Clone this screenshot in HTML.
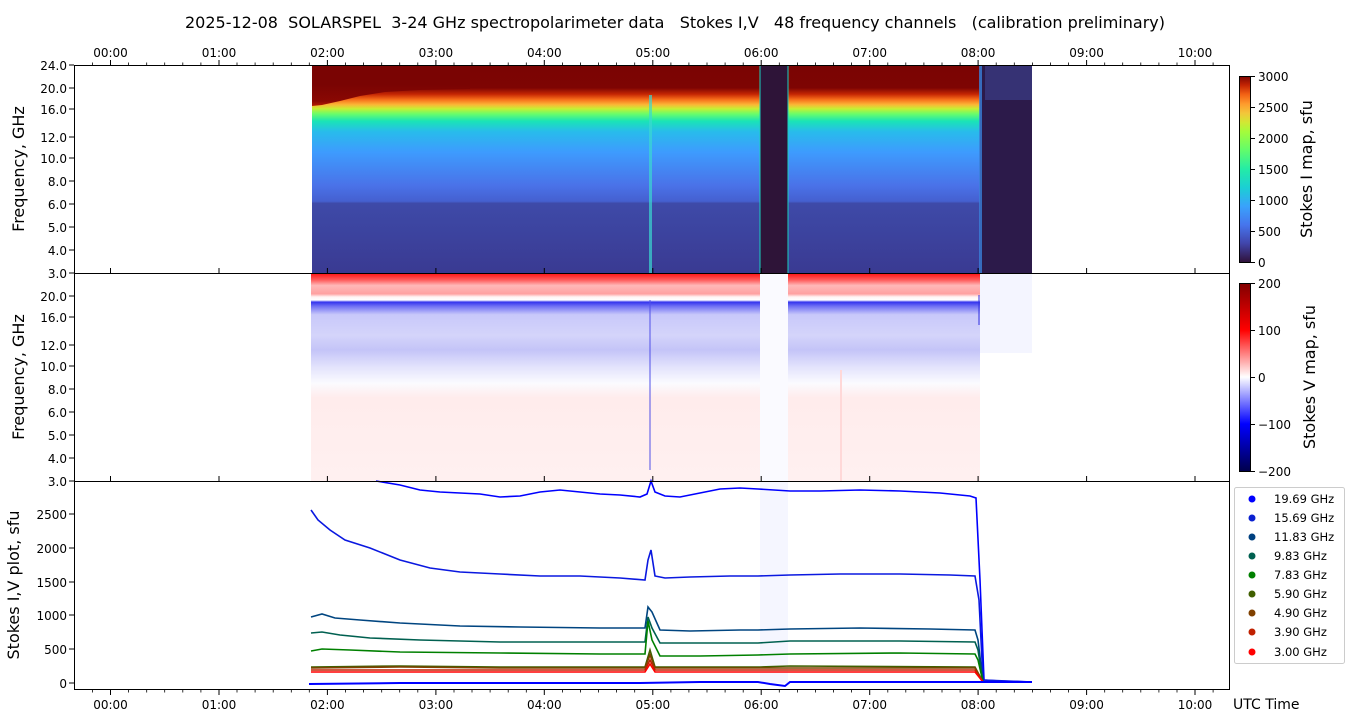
<!DOCTYPE html>
<html><head><meta charset="utf-8"><style>
body{margin:0;background:#fff;}
svg{display:block;font-family:"DejaVu Sans","Liberation Sans",sans-serif;}
</style></head><body>
<svg width="1350" height="725" viewBox="0 0 1350 725" xmlns="http://www.w3.org/2000/svg">
<defs>
<linearGradient id="gI" x1="0" y1="65" x2="0" y2="273" gradientUnits="userSpaceOnUse">
<stop offset="0" stop-color="#7a0403"/><stop offset="0.11" stop-color="#7e0503"/>
<stop offset="0.14" stop-color="#c42503"/><stop offset="0.165" stop-color="#f66b19"/>
<stop offset="0.19" stop-color="#fcb536"/><stop offset="0.21" stop-color="#c7ef34"/>
<stop offset="0.235" stop-color="#6afd6a"/><stop offset="0.27" stop-color="#1ae4b6"/>
<stop offset="0.32" stop-color="#28bceb"/><stop offset="0.42" stop-color="#3e9bfe"/>
<stop offset="0.58" stop-color="#4a72e8"/><stop offset="0.655" stop-color="#4560d0"/>
<stop offset="0.665" stop-color="#3e4aa8"/><stop offset="1" stop-color="#3a3a92"/>
</linearGradient>
<linearGradient id="gV" x1="0" y1="273" x2="0" y2="481" gradientUnits="userSpaceOnUse">
<stop offset="0" stop-color="#ff1010"/><stop offset="0.035" stop-color="#ff6060"/>
<stop offset="0.06" stop-color="#ffb8b8"/><stop offset="0.1" stop-color="#ffa0a0"/>
<stop offset="0.115" stop-color="#fff4f4"/><stop offset="0.13" stop-color="#ffffff"/>
<stop offset="0.14" stop-color="#3535ee"/><stop offset="0.16" stop-color="#7070f4"/>
<stop offset="0.2" stop-color="#c8c8fa"/><stop offset="0.3" stop-color="#d4d4fa"/>
<stop offset="0.37" stop-color="#c4c4f8"/><stop offset="0.45" stop-color="#e2e2fc"/>
<stop offset="0.53" stop-color="#fbfbff"/><stop offset="0.6" stop-color="#ffecec"/>
<stop offset="1" stop-color="#fff0f0"/>
</linearGradient>
<linearGradient id="gR" x1="0" y1="85" x2="0" y2="112" gradientUnits="userSpaceOnUse">
<stop offset="0" stop-color="#7a0403"/><stop offset="0.6" stop-color="#8a0803"/>
<stop offset="0.85" stop-color="#c42503"/><stop offset="1" stop-color="#f66b19"/>
</linearGradient>
<linearGradient id="cbI" x1="0" y1="262" x2="0" y2="76" gradientUnits="userSpaceOnUse">
<stop offset="0" stop-color="#30123b"/><stop offset="0.1" stop-color="#4145ab"/>
<stop offset="0.2" stop-color="#4675ed"/><stop offset="0.3" stop-color="#39a2fc"/>
<stop offset="0.4" stop-color="#1bcfd4"/><stop offset="0.5" stop-color="#24eca6"/>
<stop offset="0.6" stop-color="#61fc6c"/><stop offset="0.7" stop-color="#a4fc3b"/>
<stop offset="0.75" stop-color="#d1e834"/><stop offset="0.8" stop-color="#f3c63a"/>
<stop offset="0.85" stop-color="#fe9b2d"/><stop offset="0.9" stop-color="#f36315"/>
<stop offset="0.95" stop-color="#c42503"/><stop offset="1" stop-color="#7a0403"/>
</linearGradient>
<linearGradient id="cbV" x1="0" y1="471" x2="0" y2="283" gradientUnits="userSpaceOnUse">
<stop offset="0" stop-color="#00004c"/><stop offset="0.25" stop-color="#0000ff"/>
<stop offset="0.5" stop-color="#ffffff"/><stop offset="0.75" stop-color="#ff0000"/>
<stop offset="1" stop-color="#800000"/>
</linearGradient>
</defs>

<text x="675" y="28" font-size="16" text-anchor="middle" fill="#000" style="white-space:pre" xml:space="preserve">2025-12-08  SOLARSPEL  3-24 GHz spectropolarimeter data   Stokes I,V   48 frequency channels   (calibration preliminary)</text>

<!-- TOP PANEL -->
<rect x="312" y="65" width="448" height="208" fill="url(#gI)"/>
<rect x="788" y="65" width="192" height="208" fill="url(#gI)"/>
<path d="M312,65 L312,106 L322,105 L340,101 L360,96 L385,92 L420,90 L470,89 L470,65 Z" fill="url(#gR)"/>
<rect x="649" y="95" width="3" height="178" fill="#3ad8d0" opacity="0.7"/>
<rect x="760" y="65" width="28" height="208" fill="#2e1438"/>
<rect x="759" y="65" width="2" height="208" fill="#1ad0c0" opacity="0.5"/>
<rect x="787" y="65" width="2" height="208" fill="#1ad0c0" opacity="0.5"/>
<rect x="980" y="65" width="52" height="208" fill="#2c1a4a"/>
<rect x="985" y="65" width="47" height="35" fill="#363274"/>
<rect x="979" y="65" width="3" height="208" fill="#3a80d8" opacity="0.8"/>

<!-- MIDDLE PANEL -->
<rect x="311" y="273" width="449" height="208" fill="url(#gV)"/>
<rect x="788" y="273" width="192" height="208" fill="url(#gV)"/>
<rect x="760" y="273" width="28" height="208" fill="#fafaff"/>
<rect x="649" y="300" width="2" height="170" fill="#5050e8" opacity="0.5"/>
<rect x="978" y="295" width="3" height="30" fill="#3030e0" opacity="0.5"/>
<rect x="980" y="273" width="52" height="80" fill="#f4f5ff"/>
<rect x="840" y="370" width="2" height="111" fill="#ffd8d8"/>

<!-- BOTTOM PANEL -->
<rect x="760" y="481" width="28" height="202" fill="#eef0ff" opacity="0.6"/>
<g fill="none" stroke-width="1.6">
<polyline stroke="#0000ff" points="376,481 400,485 420,490 440,492 460,493 480,494 500,497 520,496 540,492 560,490 580,492 600,494 620,495 640,497 647,494 651,481 655,492 665,496 680,497 700,493 720,489 740,488 758,489 790,491 820,491 860,490 900,491 940,493 970,496 976,498 980,580 984,680 1000,681 1032,682"/>
<polyline stroke="#0a18e0" points="311,510 318,520 330,530 345,540 370,548 400,560 430,568 460,572 500,574 540,576 580,576 620,578 645,580 648,560 651,550 655,576 665,578 690,577 730,576 758,576 790,575 840,574 900,574 950,575 975,576 979,600 983,680 1032,682"/>
<polyline stroke="#004580" points="311,617 322,614 335,618 360,620 400,623 460,626 520,627 600,628 645,628 648,607 652,612 660,630 690,631 740,630 758,630 790,629 860,628 930,629 975,630 978,640 983,682"/>
<polyline stroke="#006050" points="311,633 322,632 340,635 370,638 420,640 500,642 600,642 645,642 648,617 652,628 660,643 700,643 758,643 790,641 900,641 975,642 978,650 983,682"/>
<polyline stroke="#008000" points="311,651 322,649 350,650 400,652 500,653 600,654 645,654 648,621 652,640 660,656 700,656 758,655 790,654 900,653 975,654 978,660 983,682"/>
<polyline stroke="#405f00" points="311,667 400,666 500,667 645,667 650,650 655,667 760,667 790,666 975,667 983,682"/>
<polyline stroke="#804000" points="311,668 400,667 500,668 645,668 650,655 655,668 760,668 790,668 975,668 983,682"/>
<polyline stroke="#c02000" points="311,670 400,670 500,670 645,670 650,660 655,670 760,670 790,670 975,670 983,682"/>
<polyline stroke="#ff0000" points="311,672 400,672 500,672 645,672 650,664 655,672 760,672 790,672 975,672 983,682"/>
<polyline stroke="#0000ff" stroke-width="2" points="309,684 400,683 500,683 640,683 700,682 758,682 770,684 785,686 790,682 900,682 1032,682"/>
</g>

<!-- AXES frames -->
<g fill="none" stroke="#000" stroke-width="1">
<rect x="74.5" y="65.5" width="1155" height="208"/>
<rect x="74.5" y="273.5" width="1155" height="208"/>
<rect x="74.5" y="481.5" width="1155" height="208"/>
<rect x="1239.5" y="76.5" width="11" height="186"/>
<rect x="1239.5" y="283.5" width="11" height="188"/>
</g>
<rect x="1240" y="77" width="10" height="185" fill="url(#cbI)"/>
<rect x="1240" y="284" width="10" height="187" fill="url(#cbV)"/>

<!-- time ticks -->
<g stroke="#000" stroke-width="1">
<path d="M110.5,65v-5M219,65v-5M327.4,65v-5M435.9,65v-5M544.3,65v-5M652.8,65v-5M761.2,65v-5M869.7,65v-5M978.1,65v-5M1086.6,65v-5M1195,65v-5"/>
<path d="M110.5,690v5M219,690v5M327.4,690v5M435.9,690v5M544.3,690v5M652.8,690v5M761.2,690v5M869.7,690v5M978.1,690v5M1086.6,690v5M1195,690v5"/>
<path d="M110.5,273v-5M219,273v-5M327.4,273v-5M435.9,273v-5M544.3,273v-5M652.8,273v-5M761.2,273v-5M869.7,273v-5M978.1,273v-5M1086.6,273v-5M1195,273v-5"/>
<path d="M110.5,481v-5M219,481v-5M327.4,481v-5M435.9,481v-5M544.3,481v-5M652.8,481v-5M761.2,481v-5M869.7,481v-5M978.1,481v-5M1086.6,481v-5M1195,481v-5"/>
</g>
<g stroke="#000" stroke-width="0.8" id="minor">
<path d="M92.4,65v-2.5M128.6,65v-2.5M146.7,65v-2.5M164.7,65v-2.5M182.8,65v-2.5M200.9,65v-2.5M237,65v-2.5M255.1,65v-2.5M273.2,65v-2.5M291.3,65v-2.5M309.3,65v-2.5M345.5,65v-2.5M363.6,65v-2.5M381.7,65v-2.5M399.7,65v-2.5M417.8,65v-2.5M454,65v-2.5M472,65v-2.5M490.1,65v-2.5M508.2,65v-2.5M526.3,65v-2.5M562.4,65v-2.5M580.5,65v-2.5M598.6,65v-2.5M616.6,65v-2.5M634.7,65v-2.5M670.9,65v-2.5M688.9,65v-2.5M707,65v-2.5M725.1,65v-2.5M743.2,65v-2.5M779.3,65v-2.5M797.4,65v-2.5M815.5,65v-2.5M833.5,65v-2.5M851.6,65v-2.5M887.8,65v-2.5M905.8,65v-2.5M923.9,65v-2.5M942,65v-2.5M960.1,65v-2.5M996.2,65v-2.5M1014.3,65v-2.5M1032.4,65v-2.5M1050.4,65v-2.5M1068.5,65v-2.5M1104.7,65v-2.5M1122.7,65v-2.5M1140.8,65v-2.5M1158.9,65v-2.5M1177,65v-2.5M1213.1,65v-2.5"/>
</g>
<use href="#minor" transform="matrix(1,0,0,-1,0,755)"/>

<g font-size="12" fill="#000" text-anchor="middle">
<text x="110.5" y="57">00:00</text><text x="219" y="57">01:00</text><text x="327.4" y="57">02:00</text><text x="435.9" y="57">03:00</text><text x="544.3" y="57">04:00</text><text x="652.8" y="57">05:00</text><text x="761.2" y="57">06:00</text><text x="869.7" y="57">07:00</text><text x="978.1" y="57">08:00</text><text x="1086.6" y="57">09:00</text><text x="1195" y="57">10:00</text>
<text x="110.5" y="709">00:00</text><text x="219" y="709">01:00</text><text x="327.4" y="709">02:00</text><text x="435.9" y="709">03:00</text><text x="544.3" y="709">04:00</text><text x="652.8" y="709">05:00</text><text x="761.2" y="709">06:00</text><text x="869.7" y="709">07:00</text><text x="978.1" y="709">08:00</text><text x="1086.6" y="709">09:00</text><text x="1195" y="709">10:00</text>
</g>
<text x="1233" y="709" font-size="14">UTC Time</text>

<!-- frequency ticks -->
<g stroke="#000"><path d="M74,65h-5M74,88h-5M74,109h-5M74,137h-5M74,158h-5M74,181h-5M74,204h-5M74,227h-5M74,250h-5M74,273h-5"/>
<path d="M74,296h-5M74,317h-5M74,345h-5M74,366h-5M74,389h-5M74,412h-5M74,435h-5M74,458h-5M74,481h-5"/>
<path d="M74,683h-5M74,649h-5M74,615h-5M74,582h-5M74,548h-5M74,514h-5"/></g>
<g font-size="12" text-anchor="end" fill="#000">
<text x="67" y="70">24.0</text><text x="67" y="93">20.0</text><text x="67" y="114">16.0</text><text x="67" y="142">12.0</text><text x="67" y="163">10.0</text><text x="67" y="186">8.0</text><text x="67" y="209">6.0</text><text x="67" y="232">5.0</text><text x="67" y="255">4.0</text><text x="67" y="278">3.0</text>
<text x="67" y="301">20.0</text><text x="67" y="322">16.0</text><text x="67" y="350">12.0</text><text x="67" y="371">10.0</text><text x="67" y="394">8.0</text><text x="67" y="417">6.0</text><text x="67" y="440">5.0</text><text x="67" y="463">4.0</text><text x="67" y="486">3.0</text>
<text x="67" y="688">0</text><text x="67" y="654">500</text><text x="67" y="620">1000</text><text x="67" y="587">1500</text><text x="67" y="553">2000</text><text x="67" y="519">2500</text>
</g>
<g font-size="16" fill="#000" text-anchor="middle">
<text transform="translate(24,169) rotate(-90)">Frequency, GHz</text>
<text transform="translate(24,377) rotate(-90)">Frequency, GHz</text>
<text transform="translate(19,585) rotate(-90)">Stokes I,V plot, sfu</text>
<text transform="translate(1312,169) rotate(-90)">Stokes I map, sfu</text>
<text transform="translate(1315,377) rotate(-90)">Stokes V map, sfu</text>
</g>
<!-- colorbar ticks -->
<g stroke="#000"><path d="M1251,76.5h4M1251,107.5h4M1251,138.5h4M1251,169.5h4M1251,200.5h4M1251,231.5h4M1251,262.5h4M1251,283.5h4M1251,330.5h4M1251,377.5h4M1251,424.5h4M1251,471.5h4"/></g>
<g font-size="12" fill="#000">
<text x="1258" y="81">3000</text><text x="1258" y="112">2500</text><text x="1258" y="143">2000</text><text x="1258" y="174">1500</text><text x="1258" y="205">1000</text><text x="1258" y="236">500</text><text x="1258" y="267">0</text>
<text x="1258" y="288">200</text><text x="1258" y="335">100</text><text x="1258" y="382">0</text><text x="1258" y="429">−100</text><text x="1258" y="476">−200</text>
</g>

<!-- legend -->
<rect x="1234.5" y="487.5" width="110" height="176" rx="2" fill="#fff" stroke="#ccc"/>
<g font-size="11.5" fill="#000">
<circle cx="1252" cy="499" r="3.5" fill="#0000ff"/><text x="1274" y="503">19.69 GHz</text>
<circle cx="1252" cy="518" r="3.5" fill="#0a20d0"/><text x="1274" y="522">15.69 GHz</text>
<circle cx="1252" cy="537" r="3.5" fill="#004080"/><text x="1274" y="541">11.83 GHz</text>
<circle cx="1252" cy="556" r="3.5" fill="#006050"/><text x="1274" y="560">9.83 GHz</text>
<circle cx="1252" cy="575" r="3.5" fill="#008000"/><text x="1274" y="579">7.83 GHz</text>
<circle cx="1252" cy="594" r="3.5" fill="#405f00"/><text x="1274" y="598">5.90 GHz</text>
<circle cx="1252" cy="613" r="3.5" fill="#804000"/><text x="1274" y="617">4.90 GHz</text>
<circle cx="1252" cy="632" r="3.5" fill="#c02000"/><text x="1274" y="636">3.90 GHz</text>
<circle cx="1252" cy="652" r="3.5" fill="#ff0000"/><text x="1274" y="656">3.00 GHz</text>
</g>
</svg>
</body></html>
